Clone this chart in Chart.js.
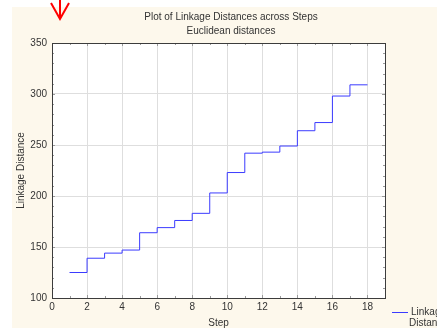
<!DOCTYPE html>
<html>
<head>
<meta charset="utf-8">
<script src="https://cdn.jsdelivr.net/npm/chart.js@4/dist/chart.umd.min.js"></script>
<style>
  html, body { margin: 0; padding: 0; background: #ffffff; }
  #wrap { width: 437px; height: 328px; position: relative; }
</style>
</head>
<body>
<div id="wrap"><canvas id="c" width="437" height="328"></canvas></div>
<script>
// Linkage distance at each amalgamation step (Euclidean distances)
const steps = [1, 2, 3, 4, 5, 6, 7, 8, 9, 10, 11, 12, 13, 14, 15, 16, 17, 18];
const linkageDistance = [125, 139, 144, 147, 164, 169, 176, 183, 203, 223, 242, 243, 249, 264, 272, 298, 309, 309];
const xTickValues = [0, 2, 4, 6, 8, 10, 12, 14, 16, 18];
const yTickValues = [100, 150, 200, 250, 300, 350];
const titleLines = ['Plot of Linkage Distances across Steps', 'Euclidean distances'];
const seriesLabel = ['Linkage', 'Distance'];

const FONT = '"Liberation Sans", Arial, sans-serif';
const FSIZE = 10;
const TEXT = '#333333';
const LINE = '#3b3bff';

// Panel background, titles, frame, minor ticks and legend
const decor = {
  id: 'decor',
  beforeDraw(chart) {
    const ctx = chart.ctx, a = chart.chartArea;
    ctx.save();
    ctx.fillStyle = '#ffffff';
    ctx.fillRect(0, 0, chart.width, chart.height);
    ctx.fillStyle = '#fdf8ec';
    ctx.fillRect(12, 7, chart.width - 12, chart.height - 7);
    ctx.fillStyle = '#ffffff';
    ctx.fillRect(a.left, a.top, a.right - a.left, a.bottom - a.top);
    ctx.restore();
  },
  afterDraw(chart) {
    const ctx = chart.ctx, a = chart.chartArea;
    const xs = chart.scales.x, ys = chart.scales.y;
    ctx.save();
    // minor ticks
    ctx.strokeStyle = '#9a9a9a';
    ctx.lineWidth = 1;
    ctx.beginPath();
    for (let v = 1; v <= 19; v++) {
      const px = Math.round(xs.getPixelForValue(v)) + 0.5;
      const len = v % 2 === 0 ? 3 : 2;
      ctx.moveTo(px, a.top); ctx.lineTo(px, a.top + len);
      ctx.moveTo(px, a.bottom); ctx.lineTo(px, a.bottom - len);
    }
    for (let v = 110; v < 350; v += 10) {
      const py = Math.round(ys.getPixelForValue(v)) + 0.5;
      const len = v % 50 === 0 ? 3 : 2;
      ctx.moveTo(a.left, py); ctx.lineTo(a.left + len, py);
      ctx.moveTo(a.right, py); ctx.lineTo(a.right - len, py);
    }
    ctx.stroke();
    // frame
    ctx.strokeStyle = '#3c3c3c';
    ctx.strokeRect(Math.round(a.left) + 0.5, Math.round(a.top) + 0.5,
                   Math.round(a.right - a.left), Math.round(a.bottom - a.top));
    // titles
    ctx.fillStyle = TEXT;
    ctx.font = FSIZE + 'px ' + FONT;
    ctx.textAlign = 'center';
    ctx.textBaseline = 'middle';
    ctx.fillText(titleLines[0], 231, 17);
    ctx.fillText(titleLines[1], 231, 31);
    // legend
    ctx.strokeStyle = LINE;
    ctx.beginPath();
    ctx.moveTo(392, 312.5); ctx.lineTo(408, 312.5);
    ctx.stroke();
    ctx.textAlign = 'left';
    ctx.fillText(seriesLabel[0], 411, 312);
    ctx.fillText(seriesLabel[1], 409, 323);
    // red marker arrow
    ctx.strokeStyle = '#ff0000';
    ctx.lineWidth = 2;
    ctx.beginPath();
    ctx.moveTo(60, 0); ctx.lineTo(60, 19);
    ctx.moveTo(51, 3); ctx.lineTo(60, 19); ctx.lineTo(69, 3);
    ctx.stroke();
    ctx.restore();
  }
};

new Chart(document.getElementById('c'), {
  type: 'line',
  data: {
    datasets: [{
      label: seriesLabel.join(' '),
      data: steps.map((s, i) => ({ x: s, y: linkageDistance[i] })),
      borderColor: LINE,
      borderWidth: 1,
      pointRadius: 0,
      stepped: 'before',
      fill: false
    }]
  },
  options: {
    responsive: false,
    animation: false,
    layout: { padding: { left: 0, top: 43, right: 52, bottom: 0 } },
    plugins: { legend: { display: false }, title: { display: false }, tooltip: { enabled: false } },
    scales: {
      x: {
        type: 'linear',
        min: 0, max: 19,
        afterBuildTicks: s => { s.ticks = xTickValues.map(v => ({ value: v })); },
        afterFit: s => { s.height = 30; },
        grid: { color: '#dedede', drawTicks: false },
        border: { display: false },
        ticks: { color: TEXT, font: { family: FONT, size: FSIZE }, padding: 3, maxRotation: 0 },
        title: { display: true, text: 'Step', color: TEXT, font: { family: FONT, size: FSIZE, lineHeight: 0.9 }, padding: { top: 0, bottom: 0 } }
      },
      y: {
        min: 100, max: 350,
        afterBuildTicks: s => { s.ticks = yTickValues.map(v => ({ value: v })); },
        afterFit: s => { s.width = 52; },
        grid: { color: '#dedede', drawTicks: false },
        border: { display: false },
        ticks: { color: TEXT, font: { family: FONT, size: FSIZE }, padding: 5 },
        title: { display: true, text: 'Linkage Distance', color: TEXT, font: { family: FONT, size: FSIZE }, padding: { top: 15, bottom: 0 } }
      }
    }
  },
  plugins: [decor]
});
</script>
</body>
</html>
